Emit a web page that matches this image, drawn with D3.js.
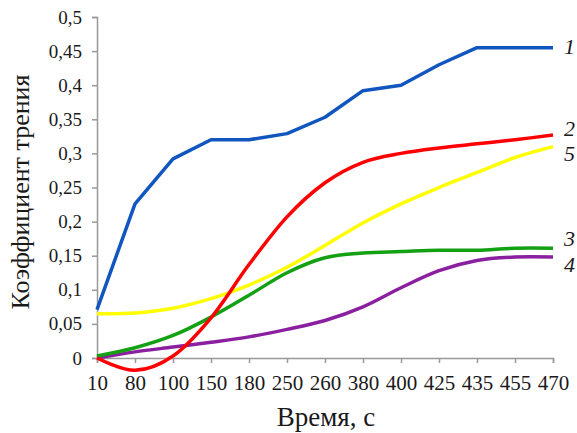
<!DOCTYPE html>
<html>
<head>
<meta charset="utf-8">
<script src="https://cdnjs.cloudflare.com/ajax/libs/d3/7.8.5/d3.min.js"></script>
<style>
    body { margin: 0; background: #fff; }
</style>
</head>
<body>
<script>
var times = ["10", "80", "100", "150", "180", "250", "260", "380", "400", "425", "435", "455", "470"];
var yTicks = [0, 0.05, 0.1, 0.15, 0.2, 0.25, 0.3, 0.35, 0.4, 0.45, 0.5];

var series1 = [0.071, 0.226, 0.292, 0.32, 0.32, 0.329, 0.353, 0.392, 0.40, 0.43, 0.455, 0.455, 0.455];
var series2 = [0, -0.018, 0.003, 0.059, 0.137, 0.207, 0.257, 0.287, 0.30, 0.308, 0.314, 0.32, 0.327];
var series3 = [0.003, 0.015, 0.033, 0.06, 0.092, 0.125, 0.147, 0.154, 0.156, 0.158, 0.158, 0.161, 0.161];
var series4 = [0, 0.009, 0.016, 0.023, 0.031, 0.042, 0.055, 0.075, 0.103, 0.128, 0.143, 0.148, 0.148];
var series5 = [0.065, 0.066, 0.073, 0.087, 0.107, 0.133, 0.165, 0.198, 0.226, 0.25, 0.272, 0.294, 0.31];

var seriesNames = ["1", "2", "5", "3", "4"];

var serif = "'Liberation Serif', 'Times New Roman', 'DejaVu Serif', serif";
var w = 577;
var h = 433;

var svg = d3.select("body")
    .append("svg")
    .attr("width", w)
    .attr("height", h)
    .style("font-family", serif);

var xScale = d3.scalePoint()
    .domain(times)
    .range([97, 553]);

var yScale = d3.scaleLinear()
    .domain([0, 0.5])
    .range([358, 17]);

var fmt = function (d) { return String(d).replace(".", ","); };

// y axis
var yAxis = d3.axisLeft(yScale)
    .tickValues(yTicks)
    .tickFormat(fmt)
    .tickSize(5)
    .tickPadding(10);

var gy = svg.append("g")
    .attr("transform", "translate(97,0)")
    .call(yAxis)
    .attr("font-family", serif);
gy.select(".domain").attr("stroke", "#999").attr("stroke-width", 1.5);
gy.selectAll(".tick line").attr("stroke", "#999").attr("stroke-width", 1.5);
gy.selectAll(".tick text").style("font-size", "19px").style("font-family", serif).attr("fill", "#1a1a1a");

// x axis
var xAxis = d3.axisBottom(xScale)
    .tickSize(5)
    .tickPadding(12);

var gx = svg.append("g")
    .attr("transform", "translate(0,358)")
    .call(xAxis)
    .attr("font-family", serif);
gx.select(".domain").attr("stroke", "#999").attr("stroke-width", 1.5);
gx.selectAll(".tick line").attr("stroke", "#999").attr("stroke-width", 1.5);
gx.selectAll(".tick text").style("font-size", "21px").style("font-family", serif).attr("fill", "#1a1a1a");

// titles
svg.append("text")
    .attr("x", 326)
    .attr("y", 426)
    .attr("text-anchor", "middle")
    .style("font-family", serif)
    .style("font-size", "27px")
    .attr("fill", "#1a1a1a")
    .text("Время, с");

svg.append("text")
    .attr("transform", "translate(29,192) rotate(-90)")
    .attr("text-anchor", "middle")
    .style("font-family", serif)
    .style("font-size", "26px")
    .attr("fill", "#1a1a1a")
    .text("Коэффициент трения");

// lines
var smooth = d3.line()
    .x(function (d, i) { return xScale(times[i]); })
    .y(function (d) { return yScale(d); })
    .curve(d3.curveCardinal.tension(0));

var straight = d3.line()
    .x(function (d, i) { return xScale(times[i]); })
    .y(function (d) { return yScale(d); });

var lines = [
    { data: series5, color: "#ffff00", gen: smooth },
    { data: series4, color: "#8a1fa0", gen: smooth },
    { data: series3, color: "#13a013", gen: smooth },
    { data: series2, color: "#ff0000", gen: smooth },
    { data: series1, color: "#1156bf", gen: straight }
];

lines.forEach(function (s) {
    svg.append("path")
        .datum(s.data)
        .attr("fill", "none")
        .attr("stroke", s.color)
        .attr("stroke-width", 3.5)
        .attr("stroke-linejoin", "round")
        .attr("d", s.gen);
});

// series labels
var labelY = [54, 136, 161, 246, 272];
seriesNames.forEach(function (n, i) {
    svg.append("text")
        .attr("x", 564)
        .attr("y", labelY[i])
        .style("font-family", serif)
        .style("font-size", "22px")
        .style("font-style", "italic")
        .attr("fill", "#1a1a1a")
        .text(n);
});
</script>
</body>
</html>
